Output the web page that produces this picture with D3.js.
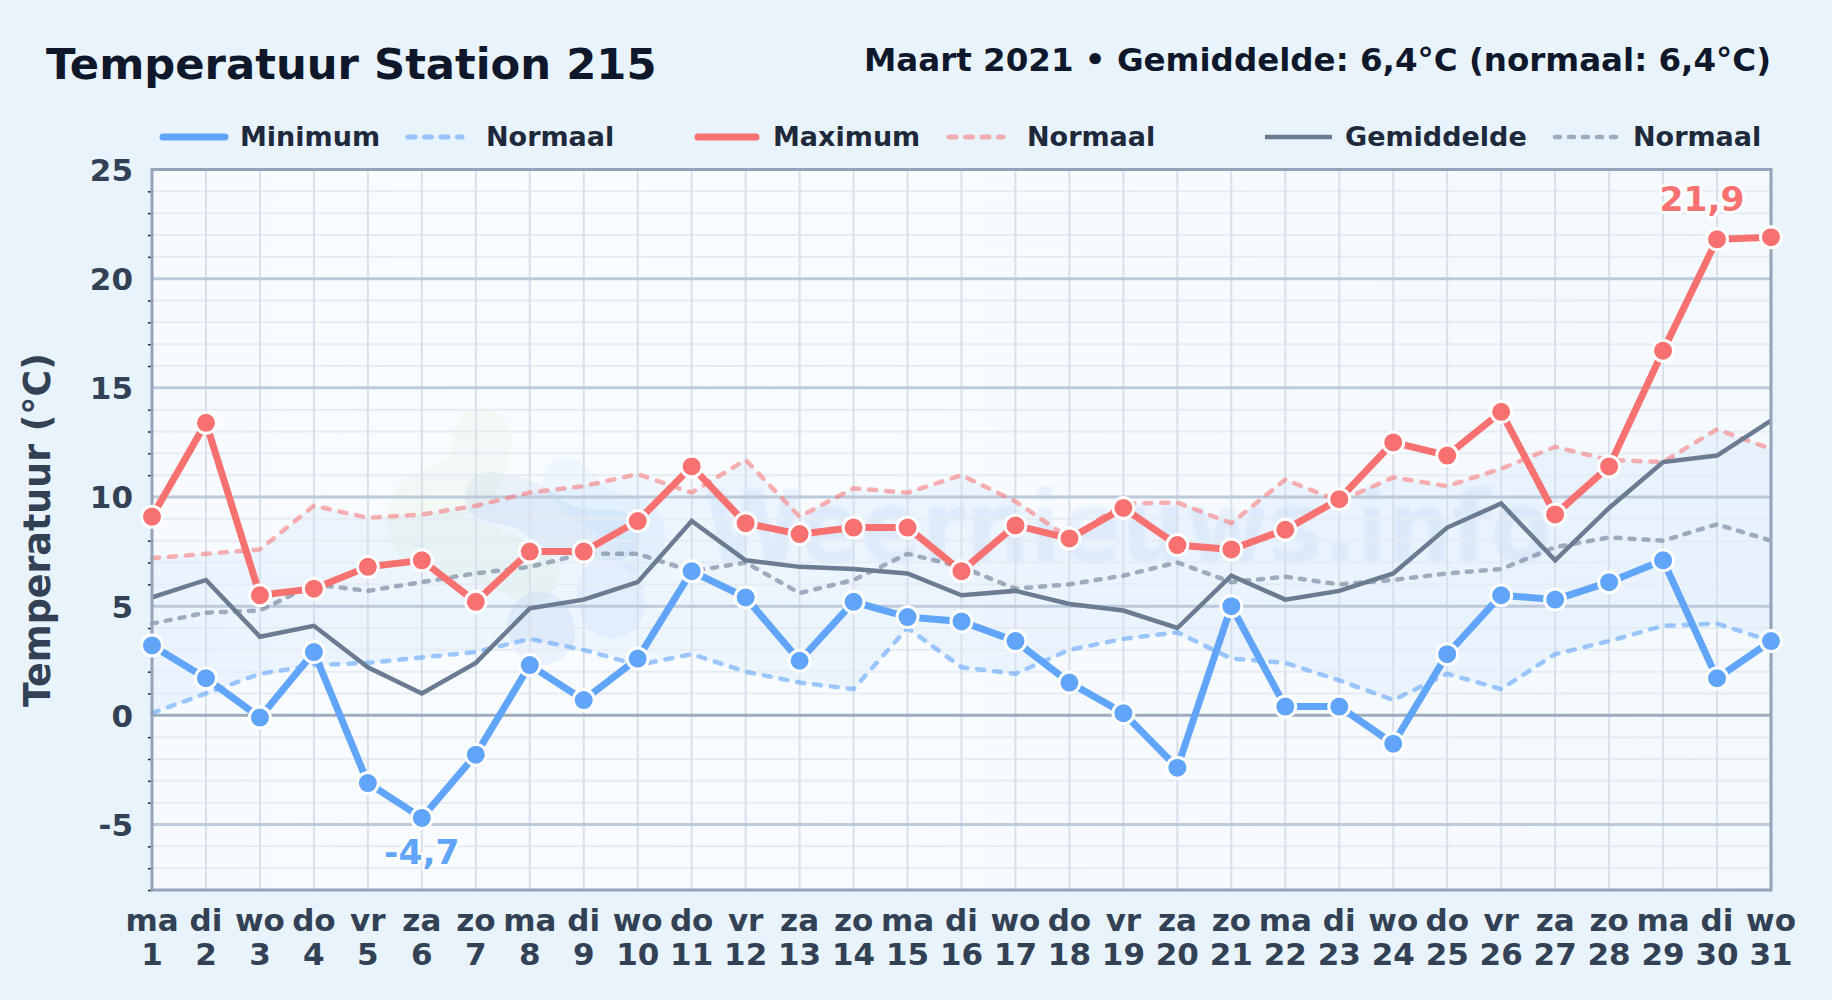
<!DOCTYPE html>
<html>
<head>
<meta charset="utf-8">
<title>Temperatuur Station 215</title>
<script src="https://cdn.jsdelivr.net/npm/d3@7"></script>
<style>
  html, body { margin: 0; padding: 0; background: #e8f3fc; }
  svg { display: block; }
  text { font-family: "DejaVu Sans", sans-serif; font-weight: bold; }
</style>
</head>
<body>
<div id="chart"></div>
<script>
var weekdays = ['ma','di','wo','do','vr','za','zo','ma','di','wo','do','vr','za','zo','ma','di','wo','do','vr','za','zo','ma','di','wo','do','vr','za','zo','ma','di','wo'];
var days = d3.range(1, 32);

var minimum = [3.2,1.7,-0.1,2.9,-3.1,-4.7,-1.8,2.3,0.7,2.6,6.6,5.4,2.5,5.2,4.5,4.3,3.4,1.5,0.1,-2.4,5.0,0.4,0.4,-1.3,2.8,5.5,5.3,6.1,7.1,1.7,3.4];
var maximum = [9.1,13.4,5.5,5.8,6.8,7.1,5.2,7.5,7.5,8.9,11.4,8.8,8.3,8.6,8.6,6.6,8.7,8.1,9.5,7.8,7.6,8.5,9.9,12.5,11.9,13.9,9.2,11.4,16.7,21.8,21.9];
var gemiddelde = [5.4,6.2,3.6,4.1,2.2,1.0,2.4,4.9,5.3,6.1,8.9,7.1,6.8,6.7,6.5,5.5,5.7,5.1,4.8,4.0,6.4,5.3,5.7,6.5,8.6,9.7,7.1,9.5,11.6,11.9,13.5];
var normaalMin = [0.1,1.0,1.9,2.3,2.4,2.65,2.9,3.5,3.0,2.3,2.8,2.0,1.5,1.2,4.0,2.2,1.9,3.0,3.5,3.8,2.6,2.4,1.6,0.7,1.9,1.2,2.8,3.4,4.1,4.2,3.4];
var normaalMax = [7.2,7.4,7.6,9.6,9.05,9.2,9.6,10.2,10.5,11.05,10.2,11.7,9.1,10.4,10.2,11.0,9.8,8.1,9.7,9.75,8.8,10.8,9.8,10.9,10.5,11.3,12.3,11.7,11.6,13.1,12.2];
var normaalGem = [4.2,4.7,4.8,6.0,5.7,6.1,6.5,6.8,7.4,7.4,6.6,7.0,5.6,6.2,7.4,6.8,5.8,6.0,6.4,7.0,6.1,6.35,6.0,6.2,6.5,6.7,7.7,8.15,8.0,8.75,8.0];

var majorTicks = [-5,0,5,10,15,20,25];
var minorTicks = d3.range(-8, 26).filter(function(d) { return d % 5 != 0; });

var blue = '#60a5fa', red = '#f87171', slate = '#6b7b91';

var margin = { top: 169.5, right: 61, bottom: 110, left: 152 };
var width = 1832, height = 1000;

var x = d3.scaleLinear().domain([1, 31]).range([margin.left, width - margin.right]);
var y = d3.scaleLinear().domain([-8, 25]).range([height - margin.bottom, margin.top]);

var svg = d3.select('#chart').append('svg')
  .attr('width', width)
  .attr('height', height);

svg.append('rect').attr('width', width).attr('height', height).attr('fill', '#e8f3fc');

var defs = svg.append('defs');
defs.append('clipPath').attr('id', 'plot').append('rect')
  .attr('x', margin.left).attr('y', margin.top)
  .attr('width', width - margin.left - margin.right)
  .attr('height', height - margin.top - margin.bottom);

var bg = defs.append('linearGradient').attr('id', 'bg')
  .attr('x1', 0).attr('y1', 0).attr('x2', 1).attr('y2', 0);
bg.append('stop').attr('offset', 0).attr('stop-color', '#f7fbff');
bg.append('stop').attr('offset', 0.3).attr('stop-color', '#f9fcff');
bg.append('stop').attr('offset', 1).attr('stop-color', '#f4f9fe');

var blur = defs.append('filter').attr('id', 'soft');
blur.append('feGaussianBlur').attr('stdDeviation', 1.5);

svg.append('rect')
  .attr('x', margin.left).attr('y', margin.top)
  .attr('width', width - margin.left - margin.right)
  .attr('height', height - margin.top - margin.bottom)
  .attr('fill', 'url(#bg)');

// watermark
var wm = svg.append('g').attr('clip-path', 'url(#plot)');
var blob = d3.line().curve(d3.curveCatmullRom);
var blobs = [
  { pts: [[482,437],[472,478],[420,505],[420,535],[480,552],[530,575]], w: 58, c: 'rgba(205,230,170,.12)' },
  { pts: [[490,497],[525,505],[565,530],[615,535]], w: 50, c: 'rgba(110,150,210,.10)' },
  { pts: [[565,480],[600,510],[640,525],[640,550]], w: 46, c: 'rgba(120,185,245,.08)' },
  { pts: [[540,625],[542,632]], w: 66, c: 'rgba(110,160,225,.10)' },
  { pts: [[610,590],[612,605]], w: 66, c: 'rgba(120,175,240,.09)' }
];
blobs.forEach(function(b) {
  wm.append('path')
    .attr('d', blob(b.pts))
    .attr('fill', 'none')
    .attr('stroke', b.c)
    .attr('stroke-width', b.w)
    .attr('stroke-linecap', 'round')
    .attr('stroke-linejoin', 'round');
});
wm.append('text')
  .attr('x', 704).attr('y', 562)
  .attr('textLength', 848)
  .attr('lengthAdjust', 'spacingAndGlyphs')
  .attr('filter', 'url(#soft)')
  .style('font-size', '100px')
  .attr('fill', 'rgba(96,165,230,.11)')
  .text('Weernieuws.info');

// normal band
var band = d3.area()
  .x(function(d) { return x(d); })
  .y0(function(d) { return y(normaalMin[d - 1]); })
  .y1(function(d) { return y(normaalMax[d - 1]); });
svg.append('path').datum(days)
  .attr('d', band)
  .attr('fill', 'rgba(59,130,246,.06)');

// grid
var grid = svg.append('g');
grid.selectAll('.minor').data(minorTicks).enter().append('line')
  .attr('x1', margin.left).attr('x2', width - margin.right)
  .attr('y1', y).attr('y2', y)
  .attr('stroke', '#e6ecf3').attr('stroke-width', 2);
grid.selectAll('.vert').data(days).enter().append('line')
  .attr('x1', x).attr('x2', x)
  .attr('y1', margin.top).attr('y2', height - margin.bottom)
  .attr('stroke', '#d8e0ea').attr('stroke-width', 2);
grid.selectAll('.major').data(majorTicks).enter().append('line')
  .attr('x1', margin.left).attr('x2', width - margin.right)
  .attr('y1', y).attr('y2', y)
  .attr('stroke', function(d) { return d == 0 ? '#9eabbd' : '#bccad9'; })
  .attr('stroke-width', 3);

// axes
var yMinor = d3.axisLeft(y).tickValues(minorTicks).tickSize(4).tickFormat('');
svg.append('g').attr('transform', 'translate(' + margin.left + ',0)').call(yMinor)
  .call(function(g) { g.select('.domain').remove(); })
  .selectAll('line').attr('stroke', '#1e293b').attr('stroke-width', 1.5);

var yMajor = d3.axisLeft(y).tickValues(majorTicks).tickSize(0).tickPadding(19)
  .tickFormat(function(d) { return String(d); });
svg.append('g').attr('transform', 'translate(' + margin.left + ',1)').call(yMajor)
  .call(function(g) { g.select('.domain').remove(); })
  .selectAll('text')
  .style('font-family', '"DejaVu Sans", sans-serif')
  .style('font-size', '31px')
  .attr('fill', '#334155');

var xAxis = d3.axisBottom(x).tickValues(days).tickSize(0).tickFormat('');
svg.append('g').attr('transform', 'translate(0,' + (height - margin.bottom) + ')').call(xAxis)
  .call(function(g) { g.select('.domain').remove(); });

var xLabels = svg.append('g').selectAll('g').data(days).enter().append('g');
xLabels.append('text')
  .attr('x', x).attr('y', 931)
  .attr('text-anchor', 'middle')
  .style('font-size', '31px')
  .attr('fill', '#334155')
  .text(function(d) { return weekdays[d - 1]; });
xLabels.append('text')
  .attr('x', x).attr('y', 965)
  .attr('text-anchor', 'middle')
  .style('font-size', '31px')
  .attr('fill', '#334155')
  .text(function(d) { return d; });

// series
function lineOf(values) {
  return d3.line()
    .x(function(d) { return x(d); })
    .y(function(d) { return y(values[d - 1]); })(days);
}

function drawLine(values, color, w, dash, alpha) {
  svg.append('path')
    .attr('d', lineOf(values))
    .attr('fill', 'none')
    .attr('stroke', color)
    .attr('stroke-width', w)
    .attr('stroke-dasharray', dash || null)
    .attr('stroke-linecap', dash ? 'round' : 'butt')
    .attr('stroke-opacity', alpha || 1)
    .attr('stroke-linejoin', 'miter');
}

drawLine(normaalMin, blue, 4.5, '7,10', 0.6);
drawLine(normaalMax, red, 4.5, '7,10', 0.55);
drawLine(normaalGem, slate, 4.5, '5,9', 0.6);
drawLine(gemiddelde, slate, 4.5);
drawLine(minimum, blue, 7);
drawLine(maximum, red, 7);

function drawDots(values, color) {
  svg.append('g').selectAll('circle').data(days).enter().append('circle')
    .attr('cx', x)
    .attr('cy', function(d) { return y(values[d - 1]); })
    .attr('r', 10.5)
    .attr('fill', color)
    .attr('stroke', '#fff')
    .attr('stroke-width', 3);
}

// plot frame
svg.append('rect')
  .attr('x', margin.left).attr('y', margin.top)
  .attr('width', width - margin.left - margin.right)
  .attr('height', height - margin.top - margin.bottom)
  .attr('fill', 'none')
  .attr('stroke', '#94a3b8')
  .attr('stroke-width', 3);

drawDots(minimum, blue);
drawDots(maximum, red);

// extreme labels
function extreme(day, value, dx, dy, color) {
  svg.append('text')
    .attr('x', x(day) + dx)
    .attr('y', y(value) + dy)
    .attr('text-anchor', 'middle')
    .style('font-size', '34.5px')
    .attr('fill', color)
    .attr('stroke', '#fff')
    .attr('stroke-width', 6)
    .attr('stroke-opacity', 0.85)
    .attr('paint-order', 'stroke')
    .attr('stroke-linejoin', 'round')
    .text(String(value).replace('.', ','));
}
extreme(6, d3.min(minimum), 0, 46, blue);
extreme(31, d3.max(maximum), -69, -26, red);

// titles
svg.append('text')
  .attr('x', 46).attr('y', 79)
  .style('font-size', '43.3px')
  .attr('fill', '#0f172a')
  .text('Temperatuur Station 215');
svg.append('text')
  .attr('x', 1771).attr('y', 71)
  .attr('text-anchor', 'end')
  .style('font-size', '32.5px')
  .attr('fill', '#0f172a')
  .text('Maart 2021 \u2022 Gemiddelde: 6,4\u00b0C (normaal: 6,4\u00b0C)');

svg.append('text')
  .attr('transform', 'translate(50,530) rotate(-90)')
  .attr('text-anchor', 'middle')
  .style('font-size', '36.4px')
  .attr('fill', '#334155')
  .text('Temperatuur (\u00b0C)');

// legend
var legendNames = ['Minimum','Normaal','Maximum','Normaal','Gemiddelde','Normaal'];
var legendColors = [blue, blue, red, red, slate, slate];
var legendWidths = [7, 5, 7, 5, 4.5, 4.5];
var legendDash = [null, '7,9.5', null, '7,9.5', null, '5,9'];
var legendCap = ['round', 'round', 'round', 'round', 'butt', 'round'];
var legendAlpha = [1, 0.6, 1, 0.55, 1, 0.6];
var legendX0 = [163, 408, 698, 949, 1265, 1555];
var legendX1 = [225, 462, 756, 1003, 1332, 1616];
var legendText = [240, 486, 773, 1027, 1345, 1633];

var legend = svg.append('g').selectAll('g').data(legendNames).enter().append('g');
legend.append('line')
  .attr('x1', function(d, i) { return legendX0[i]; })
  .attr('x2', function(d, i) { return legendX1[i]; })
  .attr('y1', 137).attr('y2', 137)
  .attr('stroke', function(d, i) { return legendColors[i]; })
  .attr('stroke-width', function(d, i) { return legendWidths[i]; })
  .attr('stroke-opacity', function(d, i) { return legendAlpha[i]; })
  .attr('stroke-dasharray', function(d, i) { return legendDash[i]; })
  .attr('stroke-linecap', function(d, i) { return legendCap[i]; });
legend.append('text')
  .attr('x', function(d, i) { return legendText[i]; })
  .attr('y', 146)
  .style('font-size', '27px')
  .attr('fill', '#1e293b')
  .text(function(d) { return d; });
</script>
</body>
</html>
